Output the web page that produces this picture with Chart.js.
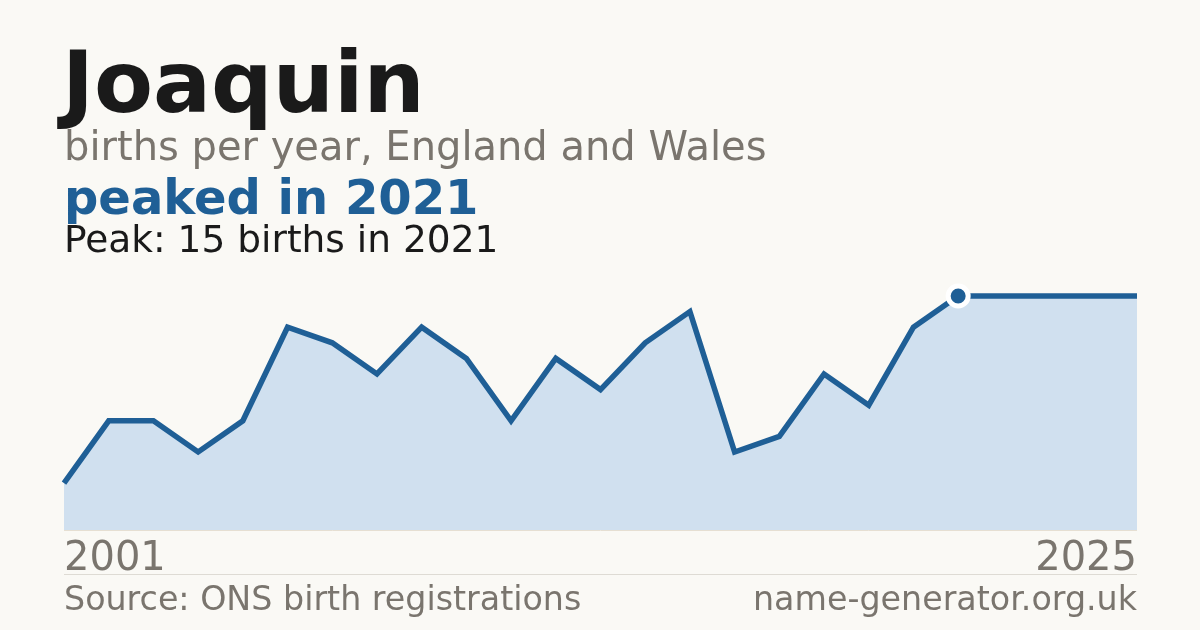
<!DOCTYPE html>
<html>
<head>
<meta charset="utf-8">
<script src="https://cdn.jsdelivr.net/npm/chart.js@4"></script>
<style>
  html, body { margin:0; padding:0; background:#faf9f5; }
  body { width:1200px; height:630px; position:relative; overflow:hidden; font-family:"DejaVu Sans", sans-serif; }
  #c { position:absolute; left:0; top:0; width:1200px; height:630px; }
  .t { position:absolute; line-height:1; white-space:nowrap; margin:0; }
  #title { left:62px; top:39px; font-size:86px; font-weight:bold; color:#1a1a1a; }
  #sub { left:64px; top:126px; font-size:40px; color:#7a756e; }
  #hl { left:64px; top:173px; font-size:48px; font-weight:bold; color:#1f5f96; }
  #peak { left:64px; top:221px; font-size:37.5px; color:#1a1a1a; }
  #y0 { left:64px; top:536px; font-size:40px; color:#7a756e; }
  #y1 { right:63px; top:536px; font-size:40px; color:#7a756e; }
  #sep { position:absolute; left:64px; width:1073px; top:574px; height:1px; background:#dedbd4; }
  #src { left:64px; top:582px; font-size:33.3px; color:#7a756e; }
  #site { right:63px; top:582px; font-size:33.3px; color:#7a756e; }
</style>
</head>
<body>
<canvas id="c" width="1200" height="630"></canvas>
<div class="t" id="title">Joaquin</div>
<div class="t" id="sub">births per year, England and Wales</div>
<div class="t" id="hl">peaked in 2021</div>
<div class="t" id="peak">Peak: 15 births in 2021</div>
<div class="t" id="y0"></div>
<div class="t" id="y1"></div>
<div id="sep"></div>
<div class="t" id="src">Source: ONS birth registrations</div>
<div class="t" id="site">name-generator.org.uk</div>
<script>
const years = ["2001","2002","2003","2004","2005","2006","2007","2008","2009","2010","2011","2012","2013","2014","2015","2016","2017","2018","2019","2020","2021","2022","2023","2024","2025"];
const births = [3,7,7,5,7,13,12,10,13,11,7,11,9,12,14,5,6,10,8,13,15,15,15,15,15];
const peakYear = "2021";

document.getElementById('y0').textContent = years[0];
document.getElementById('y1').textContent = years[years.length-1];

const peakIdx = years.indexOf(peakYear);
const baselinePlugin = {
  id: 'baseline',
  beforeDatasetsDraw(chart) {
    const {ctx, chartArea} = chart;
    ctx.save();
    ctx.strokeStyle = '#e6dfd2';
    ctx.lineWidth = 1;
    ctx.beginPath();
    ctx.moveTo(chartArea.left, chartArea.bottom + 0.5);
    ctx.lineTo(chartArea.right, chartArea.bottom + 0.5);
    ctx.stroke();
    ctx.restore();
  }
};

new Chart(document.getElementById('c'), {
  type: 'line',
  data: {
    labels: years,
    datasets: [{
      data: births,
      borderColor: '#1f5f96',
      backgroundColor: '#d0e0ef',
      borderWidth: 5.5,
      fill: 'origin',
      tension: 0,
      clip: false,
      pointRadius: births.map((v, i) => i === peakIdx ? 10 : 0),
      pointHoverRadius: 0,
      pointBackgroundColor: '#1f5f96',
      pointBorderColor: '#ffffff',
      pointBorderWidth: 5
    }]
  },
  plugins: [baselinePlugin],
  options: {
    responsive: false,
    animation: false,
    devicePixelRatio: 1,
    layout: { padding: { left: 64, right: 63, top: 296, bottom: 100 } },
    plugins: { legend: { display: false }, tooltip: { enabled: false } },
    scales: {
      x: { display: false, offset: false },
      y: { display: false, min: 0, max: 15 }
    }
  }
});
</script>
</body>
</html>
